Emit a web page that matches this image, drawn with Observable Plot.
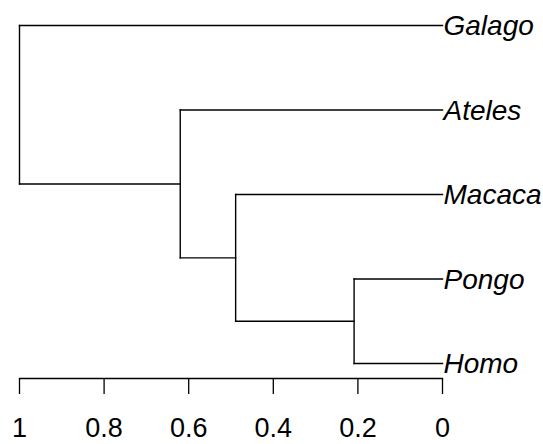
<!DOCTYPE html>
<html>
<head>
<meta charset="utf-8">
<script src="https://cdn.jsdelivr.net/npm/d3@7"></script>
<script src="https://cdn.jsdelivr.net/npm/@observablehq/plot@0.6"></script>
<style>
  html, body { margin: 0; padding: 0; background: #fff; }
  #chart { width: 543px; height: 444px; }
</style>
</head>
<body>
<div id="chart"></div>
<script>
// Leaves, top to bottom
const leaves = ["Galago", "Ateles", "Macaca", "Pongo", "Homo"];
// hclust-style merges: negative = leaf (1-based), positive = earlier merge step
const merges = [[-4, -5], [-3, 1], [-2, 2], [-1, 3]];
// Merge heights
const mergeHeights = [0.209, 0.489, 0.620, 1.0];
// Axis ticks
const tickValues = [1, 0.8, 0.6, 0.4, 0.2, 0];

// Build node positions
const nodeY = [];
const childPos = (c) => c < 0
  ? { x: 0, y: -c - 1 }
  : { x: mergeHeights[c - 1], y: nodeY[c - 1] };
const segments = [];
merges.forEach((m, i) => {
  const h = mergeHeights[i];
  const a = childPos(m[0]), b = childPos(m[1]);
  nodeY[i] = (a.y + b.y) / 2;
  segments.push({ x1: h, y1: a.y, x2: h, y2: b.y });
  segments.push({ x1: h, y1: a.y, x2: a.x, y2: a.y });
  segments.push({ x1: h, y1: b.y, x2: b.x, y2: b.y });
});
const leafData = leaves.map((name, i) => ({ name, x: 0, y: i }));

const chart = Plot.plot({
  width: 543,
  height: 444,
  marginLeft: 19,
  marginRight: 101,
  marginTop: 25,
  marginBottom: 66,
  style: { fontFamily: "'Liberation Sans', Arial, sans-serif", background: "#fff" },
  x: { domain: [1, 0] },
  y: { domain: [0, leaves.length - 1], range: [25, 363], axis: null },
  marks: [
    Plot.frame({ anchor: "bottom", stroke: "#000", strokeWidth: 1.3 }),
    Plot.axisX({
      ticks: tickValues,
      tickFormat: d => String(d),
      tickSize: 16,
      tickPadding: 23,
      fontSize: 27,
      stroke: "#000",
      strokeWidth: 1.3,
      fill: "#000",
      label: null
    }),
    Plot.link(segments, {
      x1: "x1", y1: "y1", x2: "x2", y2: "y2",
      stroke: "#000", strokeWidth: 1.4, strokeLinecap: "square"
    }),
    Plot.text(leafData, {
      x: "x", y: "y", text: "name",
      textAnchor: "start", dx: 1, dy: 1,
      fontSize: 28, fontStyle: "italic", fill: "#000"
    })
  ]
});
document.getElementById("chart").appendChild(chart);
</script>
</body>
</html>
